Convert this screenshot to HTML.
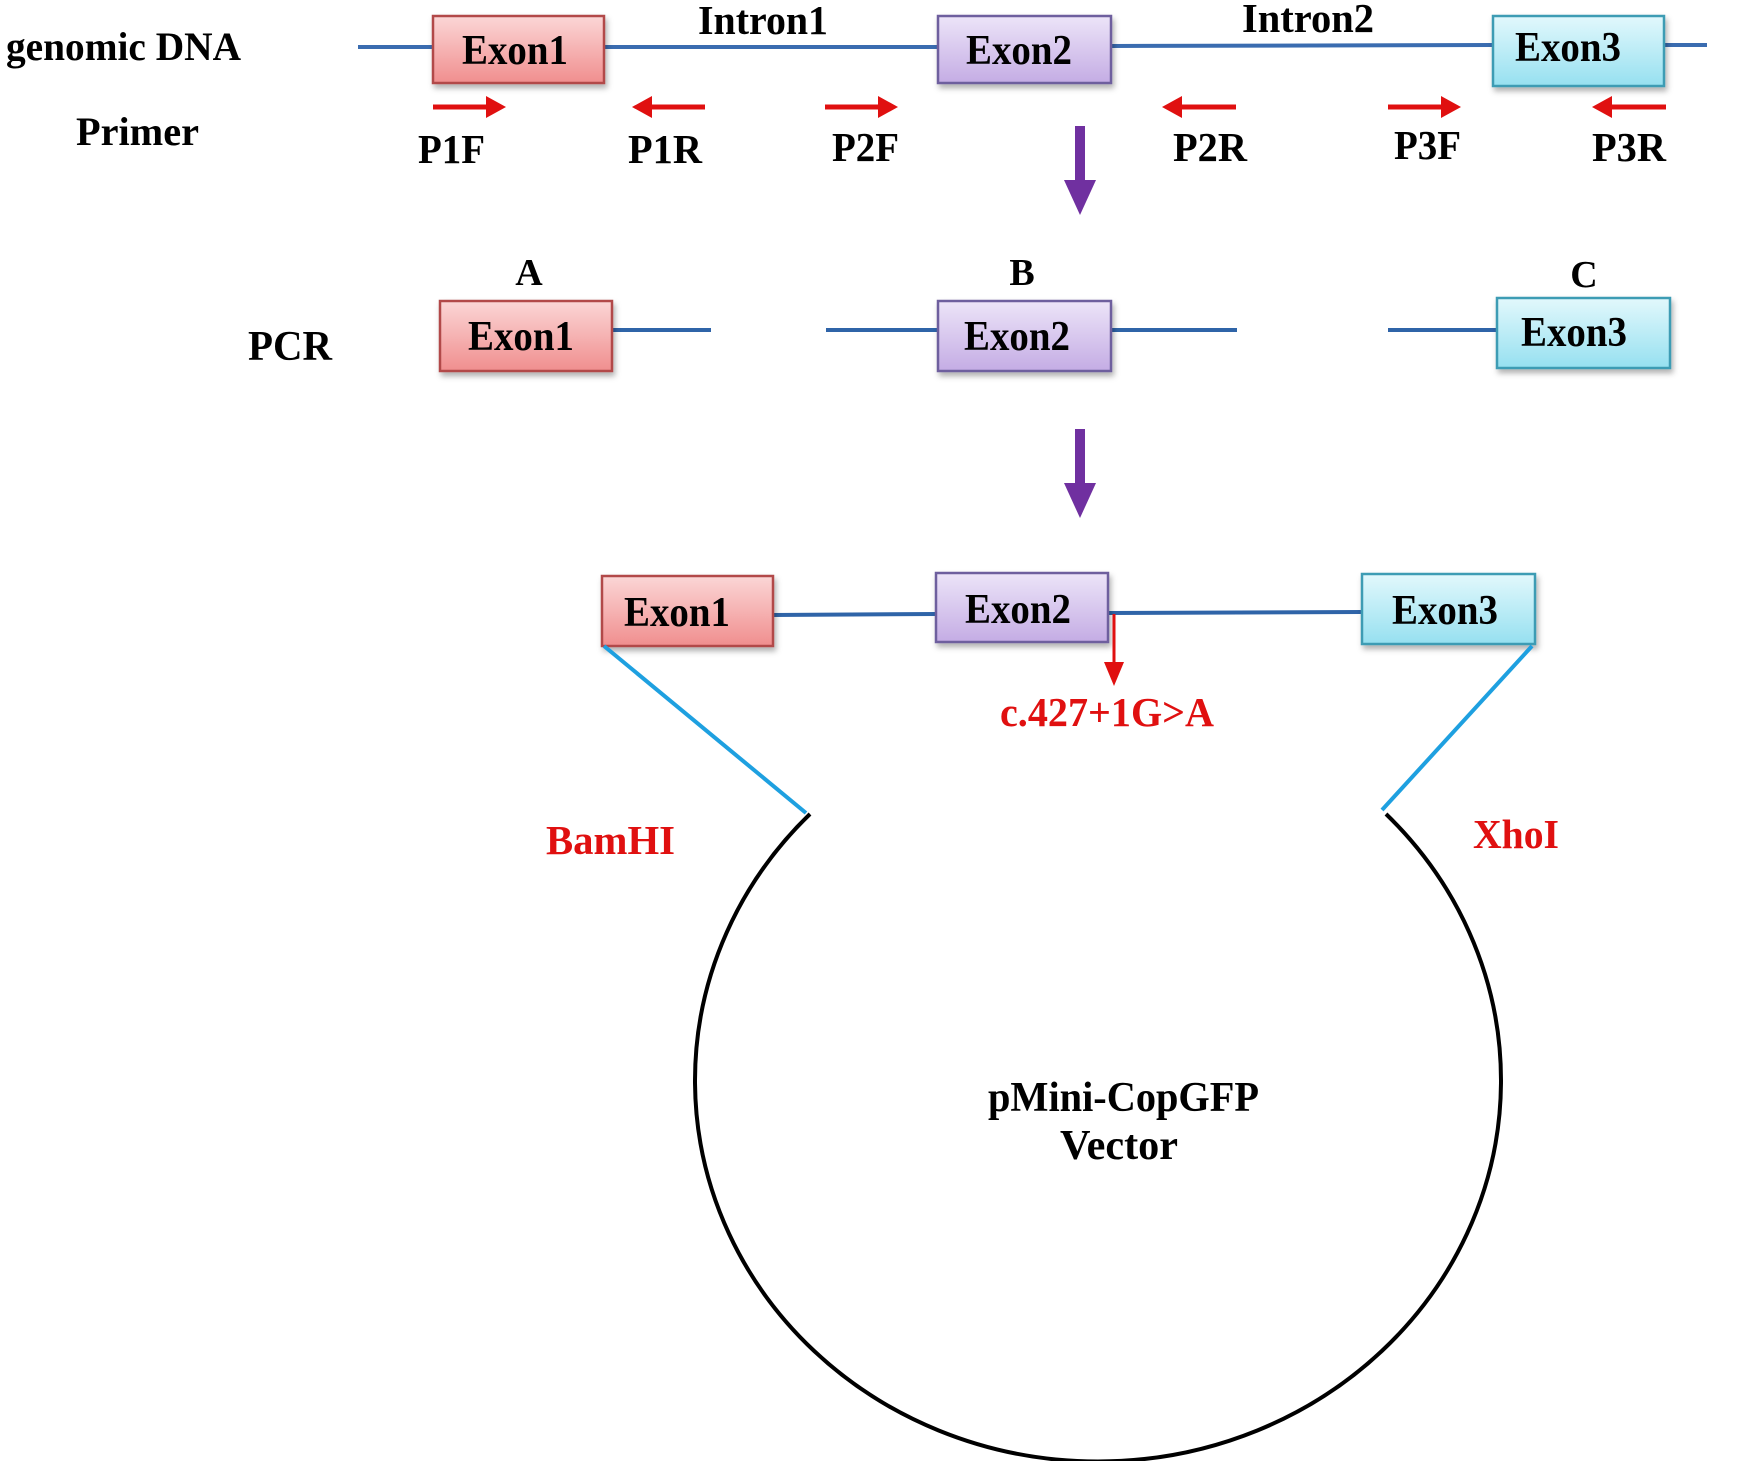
<!DOCTYPE html>
<html><head><meta charset="utf-8"><style>
html,body{margin:0;padding:0;background:#fff}
svg{display:block}
text{font-family:"Liberation Serif",serif;font-weight:bold}
</style></head><body>
<svg width="1755" height="1461" viewBox="0 0 1755 1461" xmlns="http://www.w3.org/2000/svg">
<defs>
<linearGradient id="g1" x1="0" y1="0" x2="0" y2="1"><stop offset="0" stop-color="#fbd6d6"/><stop offset="1" stop-color="#f08e8e"/></linearGradient>
<linearGradient id="g2" x1="0" y1="0" x2="0" y2="1"><stop offset="0" stop-color="#ece4f8"/><stop offset="1" stop-color="#c4ace4"/></linearGradient>
<linearGradient id="g3" x1="0" y1="0" x2="0" y2="1"><stop offset="0" stop-color="#e2f8fc"/><stop offset="1" stop-color="#96e0f0"/></linearGradient>
<filter id="sh" x="-10%" y="-10%" width="130%" height="140%"><feDropShadow dx="2" dy="4" stdDeviation="3" flood-color="#000" flood-opacity="0.3"/></filter>
</defs>

<text x="6" y="60" font-size="40" textLength="235" lengthAdjust="spacingAndGlyphs">genomic DNA</text>
<text x="76" y="145" font-size="40" textLength="123" lengthAdjust="spacingAndGlyphs">Primer</text>
<line x1="358" y1="47" x2="938" y2="47" stroke="#3a6cb0" stroke-width="4"/>
<line x1="1111" y1="46" x2="1493" y2="45" stroke="#3a6cb0" stroke-width="4"/>
<line x1="1664" y1="45" x2="1707" y2="45" stroke="#3a6cb0" stroke-width="4"/>
<rect x="433" y="16" width="171" height="67" fill="url(#g1)" stroke="#b24a4a" stroke-width="2.5" filter="url(#sh)"/>
<rect x="938" y="16" width="173" height="67" fill="url(#g2)" stroke="#6e5e9e" stroke-width="2.5" filter="url(#sh)"/>
<rect x="1493" y="16" width="171" height="70" fill="url(#g3)" stroke="#3c9cb4" stroke-width="2.5" filter="url(#sh)"/>
<text x="462" y="64" font-size="42" textLength="106" lengthAdjust="spacingAndGlyphs">Exon1</text>
<text x="966" y="64" font-size="42" textLength="106" lengthAdjust="spacingAndGlyphs">Exon2</text>
<text x="1515" y="61" font-size="42" textLength="106" lengthAdjust="spacingAndGlyphs">Exon3</text>
<text x="698" y="34" font-size="41" textLength="130" lengthAdjust="spacingAndGlyphs">Intron1</text>
<text x="1242" y="32" font-size="41" textLength="132" lengthAdjust="spacingAndGlyphs">Intron2</text>

<g stroke="#e01010" stroke-width="5" fill="#e01010">
<line x1="433" y1="107" x2="490" y2="107"/><polygon points="506,107 486,96 486,118" stroke="none"/>
<line x1="648" y1="107" x2="705" y2="107"/><polygon points="632,107 652,96 652,118" stroke="none"/>
<line x1="825" y1="107" x2="882" y2="107"/><polygon points="898,107 878,96 878,118" stroke="none"/>
<line x1="1178" y1="107" x2="1236" y2="107"/><polygon points="1162,107 1182,96 1182,118" stroke="none"/>
<line x1="1388" y1="107" x2="1445" y2="107"/><polygon points="1461,107 1441,96 1441,118" stroke="none"/>
<line x1="1608" y1="107" x2="1666" y2="107"/><polygon points="1592,107 1612,96 1612,118" stroke="none"/>
</g>
<g font-size="41">
<text x="418" y="163" textLength="67" lengthAdjust="spacingAndGlyphs">P1F</text>
<text x="628" y="163" textLength="74" lengthAdjust="spacingAndGlyphs">P1R</text>
<text x="832" y="161" textLength="67" lengthAdjust="spacingAndGlyphs">P2F</text>
<text x="1173" y="161" textLength="74" lengthAdjust="spacingAndGlyphs">P2R</text>
<text x="1394" y="159" textLength="67" lengthAdjust="spacingAndGlyphs">P3F</text>
<text x="1592" y="161" textLength="74" lengthAdjust="spacingAndGlyphs">P3R</text>
</g>

<rect x="1075" y="126" width="10" height="58" fill="#7030a0"/>
<polygon points="1064,180 1096,180 1080,215" fill="#7030a0"/>
<rect x="1075" y="429" width="10" height="58" fill="#7030a0"/>
<polygon points="1064,483 1096,483 1080,518" fill="#7030a0"/>

<text x="248" y="360" font-size="42" textLength="84" lengthAdjust="spacingAndGlyphs">PCR</text>
<text x="529" y="285" font-size="38" text-anchor="middle">A</text>
<text x="1022" y="285" font-size="38" text-anchor="middle">B</text>
<text x="1584" y="287" font-size="38" text-anchor="middle">C</text>
<g stroke="#2f64a8" stroke-width="4">
<line x1="612" y1="330" x2="711" y2="330"/>
<line x1="826" y1="330" x2="938" y2="330"/>
<line x1="1111" y1="330" x2="1237" y2="330"/>
<line x1="1388" y1="330" x2="1497" y2="330"/>
</g>
<rect x="440" y="301" width="172" height="70" fill="url(#g1)" stroke="#b24a4a" stroke-width="2.5" filter="url(#sh)"/>
<rect x="938" y="301" width="173" height="70" fill="url(#g2)" stroke="#6e5e9e" stroke-width="2.5" filter="url(#sh)"/>
<rect x="1497" y="298" width="173" height="70" fill="url(#g3)" stroke="#3c9cb4" stroke-width="2.5" filter="url(#sh)"/>
<text x="468" y="350" font-size="42" textLength="106" lengthAdjust="spacingAndGlyphs">Exon1</text>
<text x="964" y="350" font-size="42" textLength="106" lengthAdjust="spacingAndGlyphs">Exon2</text>
<text x="1521" y="346" font-size="42" textLength="106" lengthAdjust="spacingAndGlyphs">Exon3</text>

<g stroke="#2f64a8" stroke-width="4">
<line x1="773" y1="615" x2="936" y2="614"/>
<line x1="1108" y1="613" x2="1362" y2="612"/>
</g>
<rect x="602" y="576" width="171" height="70" fill="url(#g1)" stroke="#b24a4a" stroke-width="2.5" filter="url(#sh)"/>
<rect x="936" y="573" width="172" height="69" fill="url(#g2)" stroke="#6e5e9e" stroke-width="2.5" filter="url(#sh)"/>
<rect x="1362" y="574" width="173" height="70" fill="url(#g3)" stroke="#3c9cb4" stroke-width="2.5" filter="url(#sh)"/>
<text x="624" y="626" font-size="42" textLength="106" lengthAdjust="spacingAndGlyphs">Exon1</text>
<text x="965" y="623" font-size="42" textLength="106" lengthAdjust="spacingAndGlyphs">Exon2</text>
<text x="1392" y="624" font-size="42" textLength="106" lengthAdjust="spacingAndGlyphs">Exon3</text>
<line x1="1114" y1="614" x2="1114" y2="665" stroke="#e01010" stroke-width="3"/>
<polygon points="1104,662 1124,662 1114,686" fill="#e01010"/>
<text x="1000" y="726" font-size="41" fill="#e01010" textLength="214" lengthAdjust="spacingAndGlyphs">c.427+1G&gt;A</text>

<line x1="604" y1="646" x2="806" y2="813" stroke="#1ea0e0" stroke-width="4"/>
<line x1="1532" y1="646" x2="1382" y2="810" stroke="#1ea0e0" stroke-width="4"/>
<text x="546" y="854" font-size="41" fill="#e01010" textLength="129" lengthAdjust="spacingAndGlyphs">BamHI</text>
<text x="1473" y="848" font-size="41" fill="#e01010" textLength="86" lengthAdjust="spacingAndGlyphs">XhoI</text>

<path d="M 810 814 A 403 381 0 1 0 1386 814" fill="none" stroke="#000" stroke-width="4"/>
<text x="988" y="1111" font-size="42" textLength="271" lengthAdjust="spacingAndGlyphs">pMini-CopGFP</text>
<text x="1060" y="1159" font-size="42" textLength="118" lengthAdjust="spacingAndGlyphs">Vector</text>
</svg>
</body></html>
